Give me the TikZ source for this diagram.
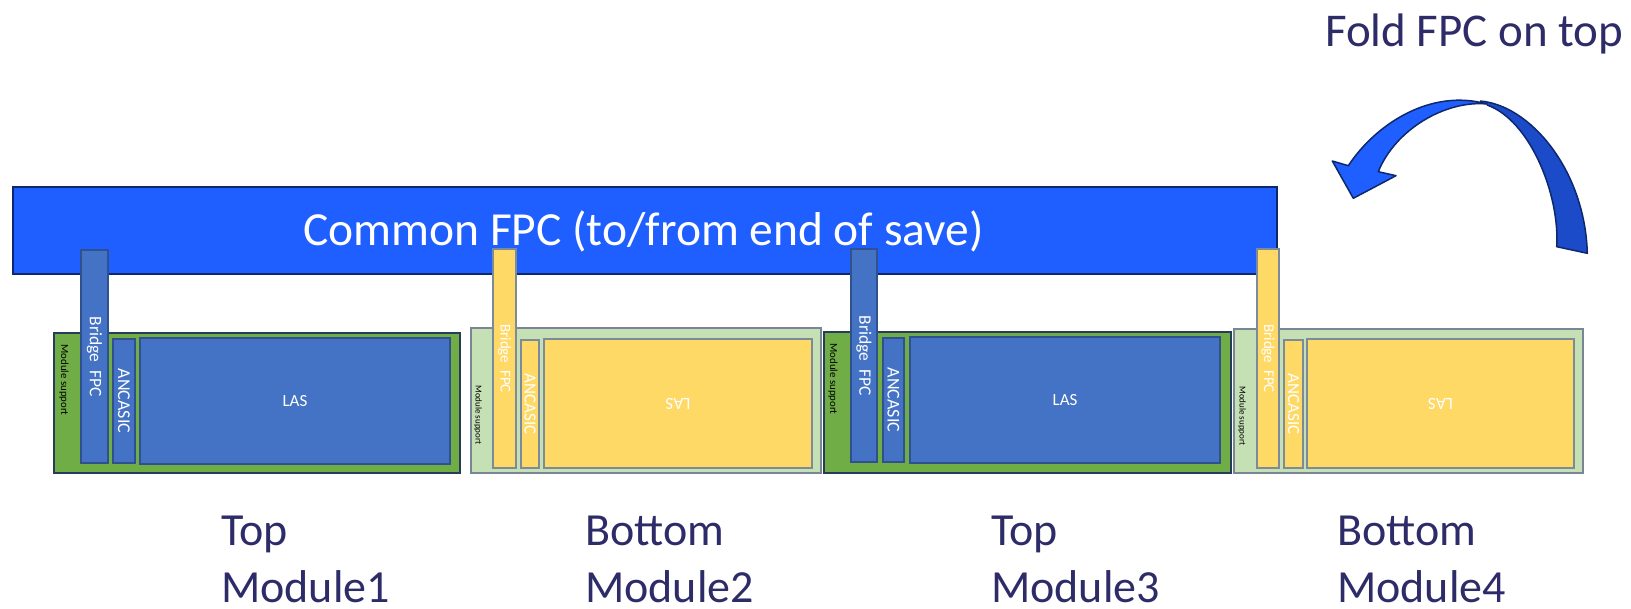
\documentclass[tikz,border=0pt]{standalone}
\usepackage{fontspec}
\setmainfont{Carlito}
\definecolor{fpcblue}{RGB}{31,94,255}
\definecolor{fpcedge}{RGB}{14,40,110}
\definecolor{partblue}{RGB}{68,114,196}
\definecolor{partedge}{RGB}{47,82,143}
\definecolor{topgreen}{RGB}{112,173,71}
\definecolor{topgreenedge}{RGB}{38,60,90}
\definecolor{botgreen}{RGB}{197,224,180}
\definecolor{botgreenedge}{RGB}{120,134,150}
\definecolor{partyellow}{RGB}{255,217,102}
\definecolor{yellowedge}{RGB}{125,138,152}
\definecolor{labelnavy}{RGB}{46,44,104}
\definecolor{arrowdark}{RGB}{27,75,200}
\tikzset{
  boxbase/.style={rectangle, inner sep=0pt, outer sep=0pt, line width=1.5pt},
  fpcbar/.style={boxbase, fill=fpcblue, draw=fpcedge, line width=2.5pt, text=white, font=\fontsize{47.5}{57}\selectfont},
  topsup/.style={boxbase, fill=topgreen, draw=topgreenedge},
  botsup/.style={boxbase, fill=botgreen, draw=botgreenedge},
  bluepart/.style={boxbase, fill=partblue, draw=partedge, text=white},
  yellowpart/.style={boxbase, fill=partyellow, draw=yellowedge, text=white},
  suptext/.style={inner sep=0pt, text=black, rotate=-90},
  modlabel/.style={inner sep=0pt, anchor=base west, text=labelnavy, font=\fontsize{46}{57}\selectfont},
  arrowpart/.style={draw=fpcedge, line width=1.5pt, line join=round}
}
% plain box: name, x1, y1, x2, y2, style, text
\newcommand{\mypbox}[7]{\node[#6, minimum width={(#4-#2)*1pt}, minimum height={(#5-#3)*1pt}] (#1) at ({(#2+#4)/2},{(#3+#5)/2}) {#7};}
% box with text turned by -90 degrees
\newcommand{\myvbox}[7]{\node[#6, rotate=-90, minimum width={(#5-#3)*1pt}, minimum height={(#4-#2)*1pt}] (#1) at ({(#2+#4)/2},{(#3+#5)/2}) {#7};}
% box with text turned by 180 degrees
\newcommand{\myubox}[7]{\node[#6, rotate=180, minimum width={(#4-#2)*1pt}, minimum height={(#5-#3)*1pt}] (#1) at ({(#2+#4)/2},{(#3+#5)/2}) {#7};}
\begin{document}
\begin{tikzpicture}[x=1pt,y=-1pt]
\useasboundingbox (0,0) rectangle (1631,609);
% common FPC
\node[fpcbar, minimum width=1264pt, minimum height=87pt] (fpc) at (645,230.5) {};
\node[inner sep=0pt, anchor=base, text=white, font=\fontsize{47.5}{57}\selectfont] (fpctext) at (643.5,246) {Common FPC (to/from end of save)};
% module supports
\mypbox{sup1}{54}{333}{460}{473}{topsup}{}
\mypbox{sup2}{471}{328}{821}{473}{botsup}{}
\mypbox{sup3}{824}{332}{1231}{473}{topsup}{}
\mypbox{sup4}{1234}{329}{1583}{473}{botsup}{}
\node[suptext, font=\fontsize{10.8}{12}\selectfont] (st1) at (64,380) {Module support};
\node[suptext, font=\fontsize{9}{11}\selectfont] (st2) at (478,415) {Module support};
\node[suptext, font=\fontsize{10.8}{12}\selectfont] (st3) at (833,379) {Module support};
\node[suptext, font=\fontsize{9}{11}\selectfont] (st4) at (1242,416) {Module support};
% bridges
\myvbox{br1}{81}{250}{108}{463}{bluepart, font=\fontsize{17.5}{20}\selectfont}{Bridge\ \ FPC}
\myvbox{br2}{493}{249}{516}{468}{yellowpart, font=\fontsize{15}{18}\selectfont}{Bridge\ \ FPC}
\myvbox{br3}{851}{249}{877}{462}{bluepart, font=\fontsize{17.5}{20}\selectfont}{Bridge\ \ FPC}
\myvbox{br4}{1257}{249}{1279}{468}{yellowpart, font=\fontsize{15}{18}\selectfont}{Bridge\ \ FPC}
% ANCASIC
\myvbox{an1}{113}{339}{135}{463}{bluepart, font=\fontsize{18}{20}\selectfont}{ANCASIC}
\myvbox{an2}{521}{340}{539}{468}{yellowpart, font=\fontsize{17}{20}\selectfont}{ANCASIC}
\myvbox{an3}{883}{338}{904}{462}{bluepart, font=\fontsize{18}{20}\selectfont}{ANCASIC}
\myvbox{an4}{1284}{340}{1303}{468}{yellowpart, font=\fontsize{17}{20}\selectfont}{ANCASIC}
% LAS
\mypbox{las1}{140}{338}{450}{464}{bluepart, font=\fontsize{17}{20}\selectfont}{LAS}
\myubox{las2}{544}{339}{812}{468}{yellowpart, font=\fontsize{17}{20}\selectfont}{LAS}
\mypbox{las3}{910}{337}{1220}{463}{bluepart, font=\fontsize{17}{20}\selectfont}{LAS}
\myubox{las4}{1307}{339}{1574}{468}{yellowpart, font=\fontsize{17}{20}\selectfont}{LAS}
% labels
\node[modlabel] (l1a) at (221,545) {Top};
\node[modlabel] (l1b) at (221,602) {Module1};
\node[modlabel] (l2a) at (585,545) {Bottom};
\node[modlabel] (l2b) at (585,602) {Module2};
\node[modlabel] (l3a) at (991,545) {Top};
\node[modlabel] (l3b) at (991,602) {Module3};
\node[modlabel] (l4a) at (1337,545) {Bottom};
\node[modlabel] (l4b) at (1337,602) {Module4};
\node[modlabel, font=\fontsize{47}{57}\selectfont] (fold) at (1325,47) {Fold FPC on top};
% curved arrow
\fill[arrowdark] (1480,101) .. controls (1530,105) and (1585,170) .. (1587.3,253.3) -- (1556.7,246.7) .. controls (1560,195) and (1530,120) .. (1487,105) -- cycle;
\draw[arrowpart] (1480,101) .. controls (1530,105) and (1585,170) .. (1587.3,253.3) -- (1556.7,246.7) .. controls (1560,195) and (1530,120) .. (1487,105);
\filldraw[arrowpart, fill=fpcblue] (1348.3,165.7) .. controls (1375,125) and (1430,88) .. (1487,104) .. controls (1445,100) and (1395,130) .. (1378.3,171.7) -- (1396,175.7) -- (1353.3,198.3) -- (1332.3,161) -- cycle;
\end{tikzpicture}
\end{document}
